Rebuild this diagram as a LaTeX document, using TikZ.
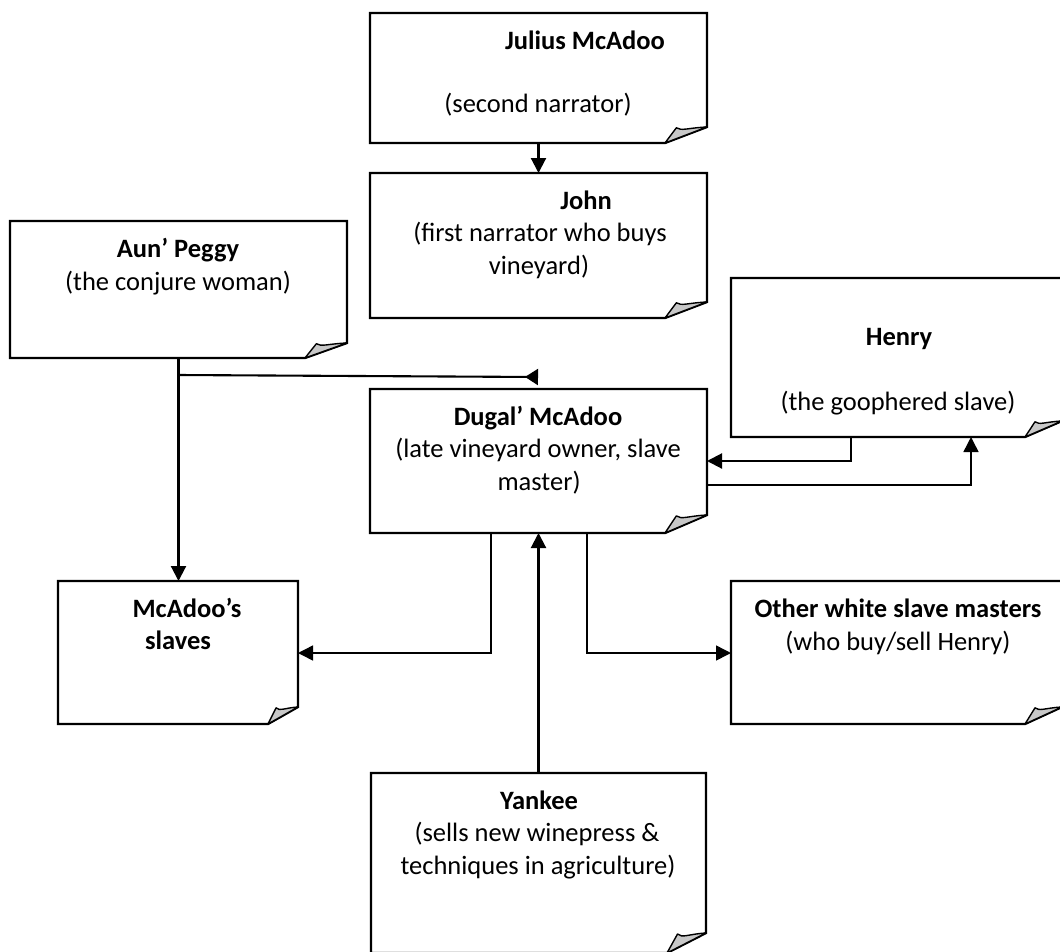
\documentclass[tikz,border=0pt]{standalone}
\usepackage{fontspec}
\setmainfont{Carlito}
\usetikzlibrary{arrows.meta}
\definecolor{curlgray}{RGB}{200,200,200}
\tikzset{
  boxarea/.style={rectangle, inner sep=0pt, outer sep=0pt, minimum width=#1},
  boxline/.style={draw=black, line width=2.3pt, line join=miter},
  curlfill/.style={fill=curlgray, draw=black, line width=1.4pt, line join=round},
  txt/.style={anchor=base, inner sep=0pt, font=\fontsize{26.5}{32}\selectfont},
  btxt/.style={txt, font=\fontsize{26.5}{32}\selectfont\bfseries},
  conn/.style={draw=black, line width=2.1pt},
  thin conn/.style={draw=black, line width=1.5pt},
  arr/.style={-{Triangle[length=15pt,width=15pt]}},
  revarr/.style={-{Triangle[reversed,length=13pt,width=16pt]}}
}
% #1 node name, #2 x1, #3 y1, #4 x2, #5 y2, #6 curl width, #7 curl height
\newcommand{\foldbox}[7]{%
  \node[boxarea={(#4-#2)*1pt}, minimum height={(#5-#3)*1pt}] (#1) at ({(#2+#4)/2},{(#3+#5)/2}) {};
  \draw[boxline] (#1.north west) -- (#1.north east) -- ([yshift=#7 pt]#1.south east)
     -- ([xshift=-#6 pt]#1.south east) -- (#1.south west) -- cycle;
  \filldraw[curlfill] ([xshift=-#6 pt]#1.south east) -- ++({0.27*#6 pt},{0.95*#7 pt})
     .. controls +({0.12*#6 pt},{-0.22*#7 pt}) and +({-0.45*#6 pt},{-0.05*#7 pt}) .. ([yshift=#7 pt]#1.south east) -- cycle;
}
\begin{document}
\begin{tikzpicture}[x=1pt,y=-1pt]
\useasboundingbox (0,0) rectangle (1060,951);

% boxes
\foldbox{julius}{370}{13}{707}{143}{42}{16}
\foldbox{john}{370}{173}{707}{318}{42}{16}
\foldbox{peggy}{10}{221}{347}{358}{42}{15}
\foldbox{dugal}{370}{389}{707}{533}{42}{18}
\foldbox{henry}{731}{278}{1062}{437}{37}{16}
\foldbox{slaves}{58}{581}{298}{724}{30}{17}
\foldbox{other}{731}{581}{1062}{724}{37}{17}
\foldbox{yankee}{371}{773}{706}{953}{39}{20}

% texts
\node[btxt] (t-julius) at (585,49) {Julius McAdoo};
\node[txt] (t-julius2) at (538,112) {(second narrator)};
\node[btxt] (t-john) at (586,209) {John};
\node[txt] (t-john2) at (540,241.5) {(first narrator who buys};
\node[txt] (t-john3) at (539,274) {vineyard)};
\node[btxt] (t-peggy) at (178,257) {Aun’ Peggy};
\node[txt] (t-peggy2) at (178,290) {(the conjure woman)};
\node[btxt] (t-dugal) at (538,425) {Dugal’ McAdoo};
\node[txt] (t-dugal2) at (538,457) {(late vineyard owner, slave};
\node[txt] (t-dugal3) at (539,490) {master)};
\node[btxt] (t-henry) at (899,345) {Henry};
\node[txt] (t-henry2) at (898,410) {(the goophered slave)};
\node[btxt] (t-slaves) at (187,617) {McAdoo’s};
\node[btxt] (t-slaves2) at (178,649) {slaves};
\node[btxt] (t-other) at (898,617) {Other white slave masters};
\node[txt] (t-other2) at (898,650) {(who buy/sell Henry)};
\node[btxt] (t-yankee) at (539,809) {Yankee};
\node[txt] (t-yankee2) at (537,841) {(sells new winepress \&};
\node[txt] (t-yankee3) at (538,874) {techniques in agriculture)};

% connector helper coordinates
\coordinate (pj) at (178.5,375);
\coordinate (pk) at (538,377);
\coordinate (h1) at (851,461);
\coordinate (h2) at (971,485);
\coordinate (s1) at (491,653);
\coordinate (o1) at (587,653);

% connectors
\draw[conn,arr] (julius.south) -- (john.north);
\draw[conn,arr] (peggy.south) -- (peggy.south |- slaves.north);
\draw[conn,revarr] (pj) -- (pk);
\draw[conn,arr] (henry.south -| h1) -- (h1) -- (h1 -| dugal.east);
\draw[thin conn,arr] (dugal.east |- h2) -- (h2) -- (h2 |- henry.south);
\draw[thin conn,arr] (dugal.south -| s1) -- (s1) -- (s1 -| slaves.east);
\draw[thin conn,arr] (dugal.south -| o1) -- (o1) -- (o1 -| other.west);
\draw[conn,arr] (yankee.north) -- (dugal.south);
\end{tikzpicture}
\end{document}
